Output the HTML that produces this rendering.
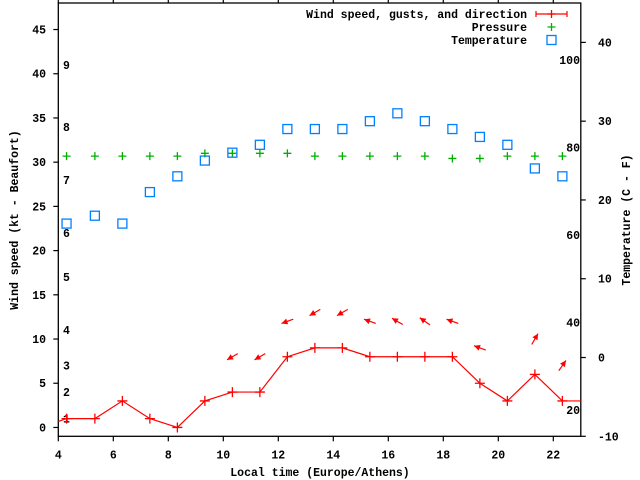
<!DOCTYPE html>
<html><head><meta charset="utf-8"><style>
html,body{margin:0;padding:0;background:#fff;}
svg{display:block;}
text{font-family:"Liberation Mono",monospace;font-weight:bold;font-size:11.5px;fill:#000;}
</style></head><body>
<svg id="chart" width="640" height="480" xmlns="http://www.w3.org/2000/svg"></svg>
<script>
const hours = [4.3,5.33,6.33,7.33,8.33,9.33,10.33,11.33,12.33,13.33,14.33,15.33,16.33,17.33,18.33,19.33,20.33,21.33,22.33];
const windSpeed = [1,1,3,1,0,3,4,4,8,9,9,8,8,8,8,5,3,6,3];
const pressure = [30.68,30.68,30.68,30.68,30.68,31.0,31.0,31.0,31.0,30.68,30.68,30.68,30.68,30.68,30.42,30.42,30.68,30.68,30.68];
const temperature = [17,18,17,21,23,25,26,27,29,29,29,30,31,30,29,28,27,24,23];
const gustHours = [10.33,11.33,12.33,13.33,14.33,15.33,16.33,17.33,18.33,19.33,21.33,22.33];
const gusts = [8,8,12,13,13,12,12,12,12,9,10,7];
const directions = [60,60,70,60,60,110,120,125,110,110,210,215];
const xTicks = [4,6,8,10,12,14,16,18,20,22];
const yTicks = [0,5,10,15,20,25,30,35,40,45];
const y2Ticks = [-10,0,10,20,30,40];
const fahrenheitLabels = [20,40,60,80,100];
const beaufortLabels = ['1','2','3','4','5','6','7','8','9'];
const beaufortKnots = [1,4,7,11,17,22,28,34,41];

const L=58.3,R=580.8,T=3,B=436.3;
const X=h=>L+(h-4)*(R-L)/19;
const Y=v=>B-(v+1)*(B-T)/49;
const Y2=c=>B-(c+10)*(B-T)/55;
const svg=document.getElementById('chart');
const NS='http://www.w3.org/2000/svg';
function mk(tag,attrs,parent){const e=document.createElementNS(NS,tag);for(const k in attrs)e.setAttribute(k,attrs[k]);(parent||svg).appendChild(e);return e;}

const clip=mk('clipPath',{id:'pc'});mk('rect',{x:L,y:T,width:R-L,height:B-T},clip);

// frame
const frame=mk('rect',{x:L,y:T,width:R-L,height:B-T,fill:'none',stroke:'#000','stroke-width':1.3});



xTicks.forEach(t=>{
  const x=X(t);
  const g=mk('g',{});
  
  
  mk('line',{x1:x,y1:B,x2:x,y2:B+5,stroke:'#000','stroke-width':1.2},g);
  mk('line',{x1:x,y1:T,x2:x,y2:T-5,stroke:'#000','stroke-width':1.2},g);
  const tx=mk('text',{x:x,y:B+22,'text-anchor':'middle'},g);tx.textContent=t;
});
yTicks.forEach(t=>{
  const y=Y(t);
  const g=mk('g',{});
  
  
  mk('line',{x1:L-5,y1:y,x2:L,y2:y,stroke:'#000','stroke-width':1.2},g);
  const tx=mk('text',{x:46,y:y+4,'text-anchor':'end'},g);tx.textContent=t;
});
y2Ticks.forEach(t=>{
  const y=Y2(t);
  const g=mk('g',{});
  
  
  mk('line',{x1:R,y1:y,x2:R+5,y2:y,stroke:'#000','stroke-width':1.2},g);
  const tx=mk('text',{x:598,y:y+4,'text-anchor':'start'},g);tx.textContent=t;
});
fahrenheitLabels.forEach(f=>{
  const tx=mk('text',{x:580,y:Y2((f-32)*5/9)+4,'text-anchor':'end'});
  
  
  tx.textContent=f;
});
beaufortLabels.forEach((b,i)=>{
  const tx=mk('text',{x:63,y:Y(beaufortKnots[i])+4});
  
  
  tx.textContent=b;
});

// axis titles
let t1=mk('text',{x:320,y:476,'text-anchor':'middle'});t1.textContent='Local time (Europe/Athens)';


let t2=mk('text',{x:0,y:0,'text-anchor':'middle',transform:'translate(18,220) rotate(-90)'});t2.textContent='Wind speed (kt - Beaufort)';


let t3=mk('text',{x:0,y:0,'text-anchor':'middle',transform:'translate(630,220) rotate(-90)'});t3.textContent='Temperature (C - F)';



const plot=mk('g',{'clip-path':'url(#pc)'});
function plus(x,y,color,g,s){s=s||4;mk('path',{d:`M${x-s} ${y}H${x+s}M${x} ${y-s}V${y+s}`,stroke:color,'stroke-width':1.3,fill:'none'},g);}

// wind line
let pts=[[X(3.33),Y(0)]].concat(hours.map((h,i)=>[X(h),Y(windSpeed[i])])).concat([[X(23.5),Y(3)]]);
const wl=mk('polyline',{points:pts.map(p=>p.join(',')).join(' '),fill:'none',stroke:'#f00','stroke-width':1.2},plot);


hours.forEach((h,i)=>{
  const g=mk('g',{},plot);
  
  
  plus(X(h),Y(windSpeed[i]),'#f00',g,5);
});
// direction arrows
gustHours.forEach((h,i)=>{
  const d=directions[i]*Math.PI/180,len=12.5;
  const dx=-Math.sin(d)*len,dy=Math.cos(d)*len;
  const cx=X(h),cy=Y(gusts[i]);
  const x1=cx-dx/2,y1=cy-dy/2,x2=cx+dx/2,y2=cy+dy/2;
  const ux=dx/len,uy=dy/len,px=-uy,py=ux;
  const g=mk('g',{},plot);
  
  
  mk('line',{x1:x1,y1:y1,x2:x2,y2:y2,stroke:'#f00','stroke-width':1.2},g);
  mk('polygon',{points:`${x2},${y2} ${x2-ux*6+px*3},${y2-uy*6+py*3} ${x2-ux*6-px*3},${y2-uy*6-py*3}`,fill:'#f00'},g);
});
// pressure
hours.forEach((h,i)=>{
  const g=mk('g',{},plot);
  
  
  plus(X(h),Y(pressure[i]),'#00b000',g,4);
});
// temperature
hours.forEach((h,i)=>{
  const r=mk('rect',{x:X(h)-4.5,y:Y2(temperature[i])-4.5,width:9,height:9,fill:'none',stroke:'#0080ff','stroke-width':1.3},plot);
  
  
});

// legend
const lg=mk('g',{});


const e1=mk('g',{},lg);


let lt=mk('text',{x:527,y:18,'text-anchor':'end'},e1);lt.textContent='Wind speed, gusts, and direction';
mk('path',{d:'M536 14H567M536 11V17M567 11V17',stroke:'#f00','stroke-width':1.2,fill:'none'},e1);
plus(551.5,14,'#f00',e1,4);
const e2=mk('g',{},lg);


lt=mk('text',{x:527,y:31,'text-anchor':'end'},e2);lt.textContent='Pressure';
plus(551.5,27,'#00b000',e2,4);
const e3=mk('g',{},lg);


lt=mk('text',{x:527,y:44,'text-anchor':'end'},e3);lt.textContent='Temperature';
mk('rect',{x:547,y:35.5,width:9,height:9,fill:'none',stroke:'#0080ff','stroke-width':1.3},e3);
</script>
</body></html>
